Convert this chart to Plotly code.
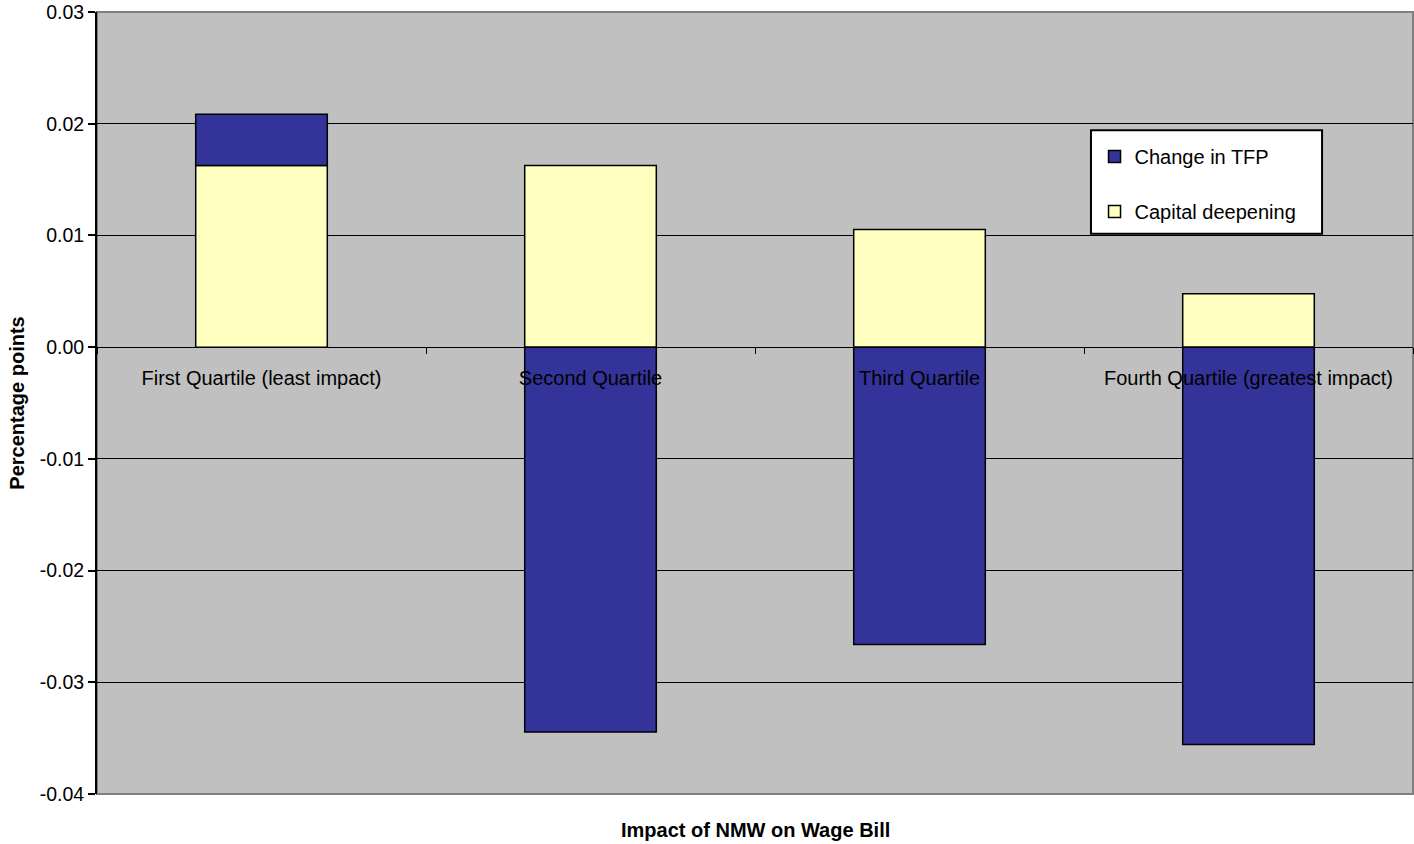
import plotly.graph_objects as go

categories = ["First Quartile (least impact)", "Second Quartile", "Third Quartile",
              "Fourth Quartile (greatest impact)"]
capital_deepening = [0.01625, 0.01625, 0.01054, 0.00479]
change_in_tfp = [0.0046, -0.03446, -0.02661, -0.03557]
y_ticks = [-0.04, -0.03, -0.02, -0.01, 0.00, 0.01, 0.02, 0.03]
y_tick_labels = ["-0.04", "-0.03", "-0.02", "-0.01", "0.00", "0.01", "0.02", "0.03"]

y_min, y_max = -0.04, 0.03
font = "Liberation Sans, Arial, sans-serif"

fig = go.Figure()
fig.add_trace(go.Bar(x=categories, y=capital_deepening, name="Capital deepening",
                     marker=dict(color="#FFFFC0", line=dict(color="black", width=1.5)),
                     width=0.4, legendgroup="b", legendrank=2))
fig.add_trace(go.Bar(x=categories, y=change_in_tfp, name="Change in TFP",
                     marker=dict(color="#333399", line=dict(color="black", width=1.5)),
                     width=0.4, legendgroup="a", legendrank=1))

zero_pos = (0 - y_min) / (y_max - y_min)

fig.update_layout(
    width=1414, height=844,
    barmode="relative",
    paper_bgcolor="white", plot_bgcolor="#C0C0C0",
    margin=dict(l=97, r=1, t=10, b=50),
    font=dict(family=font, size=20, color="black"),
    showlegend=True,
    legend=dict(x=0.758, y=0.84, xanchor="left", yanchor="top",
                bgcolor="rgba(0,0,0,0)", borderwidth=0,
                traceorder="grouped", tracegroupgap=26,
                font=dict(size=20), itemwidth=30),
    xaxis=dict(anchor="free", position=zero_pos, showline=True, linecolor="black",
               linewidth=1, ticks="outside", tickson="boundaries", ticklen=6,
               tickcolor="black", showgrid=False, tickfont=dict(size=20),
               ticklabelstandoff=13),
    yaxis=dict(range=[y_min, y_max], tickvals=y_ticks, ticktext=y_tick_labels,
               showgrid=True, gridcolor="black", gridwidth=1,
               zeroline=True, zerolinecolor="black", zerolinewidth=1,
               showline=True, linecolor="black", linewidth=2,
               ticks="outside", ticklen=7, tickcolor="black", tickwidth=2,
               tickfont=dict(size=19.5), ticklabeloverflow="allow",
               title=dict(text="<b>Percentage points</b>", font=dict(size=20), standoff=10)),
    shapes=[
        dict(type="rect", xref="paper", yref="paper", x0=0, x1=1, y0=0, y1=1,
             line=dict(color="#808080", width=2), fillcolor="rgba(0,0,0,0)", layer="below"),
        dict(type="rect", xref="paper", yref="paper", x0=0.7553, x1=0.9309,
             y0=0.7163, y1=0.8489, line=dict(color="black", width=2),
             fillcolor="white", layer="above"),
    ],
    annotations=[
        dict(text="<b>Impact of NMW on Wage Bill</b>", xref="paper", yref="paper",
             x=0.5, y=0, yshift=-36, xanchor="center", yanchor="middle",
             showarrow=False, font=dict(size=20)),
    ],
)

fig.write_html("out.html", config={"displayModeBar": False},
               post_script="document.body.style.margin='0';document.body.style.overflow='hidden';")
